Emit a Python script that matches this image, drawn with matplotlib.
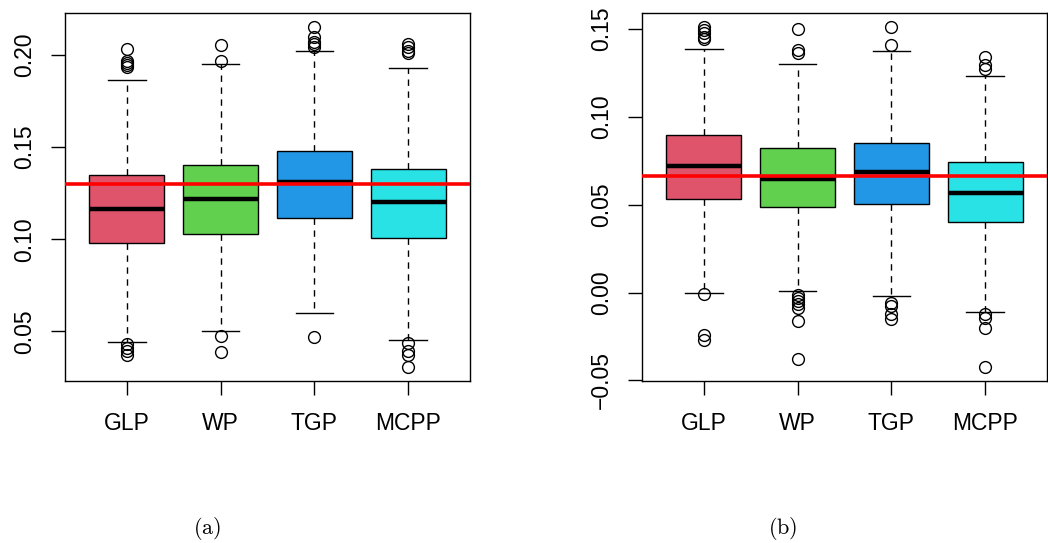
import matplotlib
matplotlib.use("Agg")
import matplotlib.pyplot as plt

plt.rcParams["font.family"] = ["Liberation Sans", "DejaVu Sans"]
plt.rcParams["mathtext.fontset"] = "cm"

methods = ["GLP", "WP", "TGP", "MCPP"]
box_colors = ["#DF536B", "#61D04F", "#2297E6", "#28E2E5"]

# panel (a)
a_whislo = [0.0442, 0.0500, 0.0599, 0.0453]
a_q1 = [0.0978, 0.1031, 0.1116, 0.1009]
a_med = [0.1164, 0.1218, 0.1309, 0.1200]
a_q3 = [0.1346, 0.1401, 0.1480, 0.1381]
a_whishi = [0.1865, 0.1949, 0.2023, 0.1931]
a_fliers = [
    [0.2034, 0.1965, 0.1955, 0.1945, 0.1935, 0.0430, 0.0412, 0.0394, 0.0370],
    [0.2051, 0.1969, 0.0475, 0.0388],
    [0.2153, 0.2096, 0.2072, 0.2058, 0.2043, 0.0471],
    [0.2060, 0.2042, 0.2023, 0.2009, 0.0435, 0.0394, 0.0370, 0.0305],
]
a_ref = 0.130
a_ticks = [0.05, 0.10, 0.15, 0.20]

# panel (b)
b_whislo = [0.0000, 0.0011, -0.0019, -0.0110]
b_q1 = [0.0534, 0.0485, 0.0502, 0.0403]
b_med = [0.0720, 0.0648, 0.0686, 0.0568]
b_q3 = [0.0898, 0.0820, 0.0850, 0.0742]
b_whishi = [0.1386, 0.1301, 0.1377, 0.1233]
b_fliers = [
    [0.1513, 0.1491, 0.1475, 0.1456, 0.1441, -0.0009, -0.0239, -0.0271],
    [0.1500, 0.1381, 0.1362, -0.0017, -0.0034, -0.0049, -0.0068, -0.0087,
     -0.0163, -0.0377],
    [0.1513, 0.1407, -0.0059, -0.0078, -0.0125, -0.0150],
    [0.1343, 0.1295, 0.1273, -0.0125, -0.0144, -0.0201, -0.0426],
]
b_ref = 0.0665
b_ticks = [-0.05, 0.00, 0.05, 0.10, 0.15]


def draw_panel(ax, whislo, q1, med, q3, whishi, fliers, ref, ticks):
    stats = []
    for i in range(len(methods)):
        stats.append(dict(whislo=whislo[i], q1=q1[i], med=med[i], q3=q3[i],
                          whishi=whishi[i], fliers=fliers[i], label=methods[i]))
    bp = ax.bxp(stats, positions=range(1, len(methods) + 1), widths=0.8,
                capwidths=0.4, patch_artist=True,
                boxprops=dict(edgecolor="black", linewidth=1.0),
                medianprops=dict(color="black", linewidth=3.2,
                                 solid_capstyle="butt"),
                whiskerprops=dict(color="black", linewidth=1.0,
                                  linestyle=(0, (4.6, 4.0))),
                capprops=dict(color="black", linewidth=1.0),
                flierprops=dict(marker="o", markerfacecolor="none",
                                markeredgecolor="black", markersize=8.5,
                                markeredgewidth=1.0))
    for patch, c in zip(bp["boxes"], box_colors):
        patch.set_facecolor(c)

    ax.axhline(ref, color="#FF0000", linewidth=2.6, zorder=5)

    # R-style limits: data range padded by 4%
    all_vals = whislo + whishi + [v for f in fliers for v in f]
    lo, hi = min(all_vals), max(all_vals)
    pad = 0.04 * (hi - lo)
    ax.set_ylim(lo - pad, hi + pad)
    ax.set_xlim(0.5 - 0.16, len(methods) + 0.5 + 0.16)

    ax.set_yticks(ticks)
    ax.set_yticklabels(["%.2f" % t if t >= 0 else "\u22120.05" for t in ticks])
    ax.set_xticks(range(1, len(methods) + 1))
    ax.set_xticklabels(methods)
    ax.tick_params(axis="both", direction="out", length=10, width=1.0,
                   labelsize=16.5)
    ax.tick_params(axis="x", pad=12)
    ax.tick_params(axis="y", pad=11)
    plt.setp(ax.get_yticklabels(), rotation=90, va="center")
    for s in ax.spines.values():
        s.set_linewidth(1.0)


fig = plt.figure(figsize=(10.48, 5.43), dpi=100)
ax_a = fig.add_axes([65 / 1048, 1 - 381 / 543, 405 / 1048, 368 / 543])
ax_b = fig.add_axes([642 / 1048, 1 - 381 / 543, 405 / 1048, 368 / 543])

draw_panel(ax_a, a_whislo, a_q1, a_med, a_q3, a_whishi, a_fliers, a_ref, a_ticks)
draw_panel(ax_b, b_whislo, b_q1, b_med, b_q3, b_whishi, b_fliers, b_ref, b_ticks)

fig.text(207 / 1048, 1 - 529 / 543, r"$\mathrm{(a)}$", fontsize=16,
         ha="center", va="center")
fig.text(783 / 1048, 1 - 529 / 543, r"$\mathrm{(b)}$", fontsize=16,
         ha="center", va="center")

fig.savefig("out.png", dpi=100)
